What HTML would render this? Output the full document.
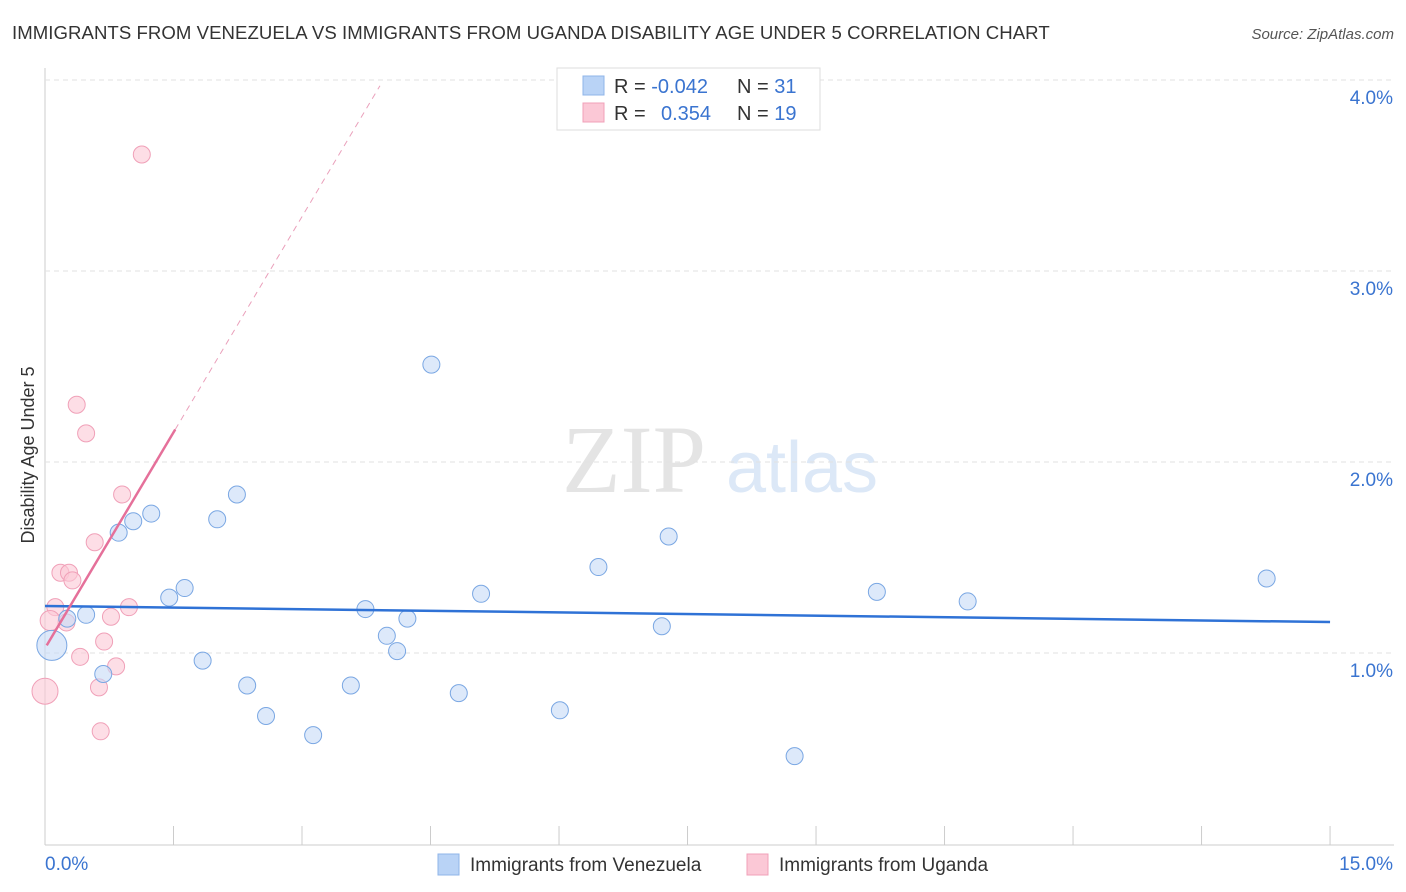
<!DOCTYPE html>
<html><head><meta charset="utf-8"><style>
body{margin:0;background:#fff;font-family:"Liberation Sans",sans-serif}
svg{display:block}
</style></head><body>
<svg id="c" width="1406" height="892" xmlns="http://www.w3.org/2000/svg">
<text x="12" y="39" font-size="18.6" letter-spacing="0.05" fill="#333">IMMIGRANTS FROM VENEZUELA VS IMMIGRANTS FROM UGANDA DISABILITY AGE UNDER 5 CORRELATION CHART</text>
<text x="1394" y="39" font-size="15" fill="#555" font-style="italic" text-anchor="end">Source: ZipAtlas.com</text>
<text x="634" y="492" font-size="96" fill="#e4e4e4" font-family="Liberation Serif,serif" text-anchor="middle">ZIP</text>
<text x="802" y="492" font-size="72" fill="#dce8f7" text-anchor="middle">atlas</text>
<text transform="translate(34,455) rotate(-90)" font-size="18" fill="#333" text-anchor="middle">Disability Age Under 5</text>
<g id="grid"></g><g id="marks"></g>
<g>
<rect x="557" y="68" width="263" height="62" fill="#fff" stroke="#ddd"/>
<rect x="583" y="76" width="21" height="19" fill="#b9d3f6" stroke="#8fb4e8"/>
<rect x="583" y="103" width="21" height="19" fill="#fbc8d6" stroke="#f0a0b8"/>
<text x="614" y="93" font-size="20" fill="#333">R = <tspan fill="#3a74d0">-0.042</tspan><tspan x="737">N = </tspan><tspan fill="#3a74d0">31</tspan></text>
<text x="614" y="120" font-size="20" fill="#333">R = <tspan x="661" fill="#3a74d0">0.354</tspan><tspan x="737">N = </tspan><tspan fill="#3a74d0">19</tspan></text>
</g>
<g>
<rect x="438" y="854" width="21" height="21" fill="#b9d3f6" stroke="#8fb4e8"/>
<text x="470" y="871" font-size="19" fill="#333">Immigrants from Venezuela</text>
<rect x="747" y="854" width="21" height="21" fill="#fbc8d6" stroke="#f0a0b8"/>
<text x="779" y="871" font-size="19" fill="#333">Immigrants from Uganda</text>
</g>
</svg>
<script>
const yTicks=[1,2,3,4];
const xTickLabels=["0.0%","15.0%"];
const blueX=[4.51,2.24,1.24,2.01,1.03,0.86,7.28,6.46,14.26,1.63,1.45,5.09,9.71,10.77,0.48,3.74,4.23,0.26,7.20,3.99,4.11,1.84,0.68,2.36,3.57,4.83,6.01,2.58,3.13,8.75,0.08];
const blueY=[2.51,1.83,1.73,1.70,1.69,1.63,1.61,1.45,1.39,1.34,1.29,1.31,1.32,1.27,1.20,1.23,1.18,1.18,1.14,1.09,1.01,0.96,0.89,0.83,0.83,0.79,0.70,0.67,0.57,0.46,1.04];
const pinkX=[1.13,0.37,0.48,0.90,0.58,0.18,0.28,0.32,0.98,0.12,0.77,0.25,0.69,0.41,0.83,0.63,0.65,0.0,0.06];
const pinkY=[3.61,2.30,2.15,1.83,1.58,1.42,1.42,1.38,1.24,1.24,1.19,1.16,1.06,0.98,0.93,0.82,0.59,0.80,1.17];
const blueTrend=[[0,1.246],[15,1.162]];
const pinkTrend=[[0.02,1.04],[1.52,2.17]];
const pinkDash=[[1.52,2.17],[3.91,3.97]];
const X=v=>45+v*85.67, Y=v=>844-v*191;
const NS="http://www.w3.org/2000/svg";
const g=document.getElementById('grid'), m=document.getElementById('marks');
function mk(p,t,a){const e=document.createElementNS(NS,t);for(const k in a)e.setAttribute(k,a[k]);p.appendChild(e);return e;}
let ax=mk(g,'line',{x1:45,x2:45,y1:68,y2:845,stroke:'#ccc'});


let bx=mk(g,'line',{x1:45,x2:1394,y1:845,y2:845,stroke:'#ccc'});


yTicks.forEach(t=>{
 let l=mk(g,'line',{x1:45,x2:1394,y1:Y(t),y2:Y(t),stroke:'#e2e2e2','stroke-dasharray':'5,4'});
 
 
 let tx=mk(g,'text',{x:1393,y:Y(t)+24,'font-size':19,fill:'#3a74d0','text-anchor':'end'});tx.textContent=t.toFixed(1)+'%';
 
 
});
for(let i=1;i<=10;i++){let l=mk(g,'line',{x1:X(i*1.5),x2:X(i*1.5),y1:826,y2:845,stroke:'#ccc'});
 
 }
let t0=mk(g,'text',{x:45,y:870,'font-size':19,fill:'#3a74d0'});t0.textContent=xTickLabels[0];


let t1=mk(g,'text',{x:1393,y:870,'font-size':19,fill:'#3a74d0','text-anchor':'end'});t1.textContent=xTickLabels[1];


function pts(xs,ys,fill,stroke,name,bigIdx,bigR){xs.forEach((x,i)=>{
 let r=i===bigIdx?bigR:(name==='uganda-point'&&i===xs.length-1?10:8.5);
 let c=mk(m,'circle',{cx:X(x),cy:Y(ys[i]),r:r,fill:fill,stroke:stroke,'stroke-width':1,'fill-opacity':0.6});
 
 
});}
pts(pinkX,pinkY,'#fbc8d6','#f0a0b8','uganda-point',17,13);
pts(blueX,blueY,'#c6dbf7','#7aa7e3','venezuela-point',30,15);
let bl=mk(m,'line',{x1:X(blueTrend[0][0]),y1:Y(blueTrend[0][1]),x2:X(blueTrend[1][0]),y2:Y(blueTrend[1][1]),stroke:'#2f72d6','stroke-width':2.5});


let pl=mk(m,'line',{x1:X(pinkTrend[0][0]),y1:Y(pinkTrend[0][1]),x2:X(pinkTrend[1][0]),y2:Y(pinkTrend[1][1]),stroke:'#e5709a','stroke-width':2.5});


let pd=mk(m,'line',{x1:X(pinkDash[0][0]),y1:Y(pinkDash[0][1]),x2:X(pinkDash[1][0]),y2:Y(pinkDash[1][1]),stroke:'#eaa0bb','stroke-width':1,'stroke-dasharray':'6,5'});


</script>
</body></html>
